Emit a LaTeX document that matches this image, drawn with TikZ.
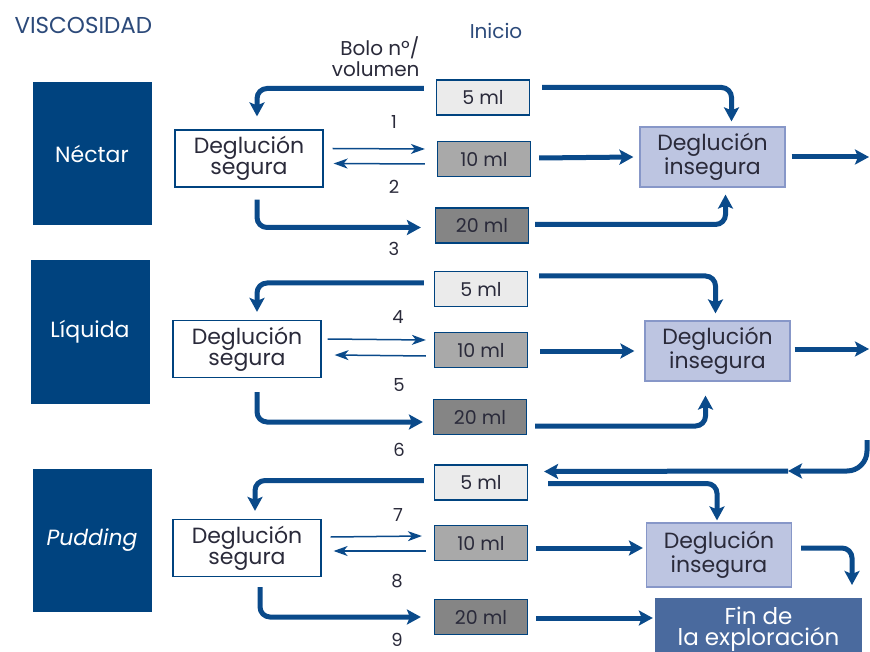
\documentclass[tikz,border=0pt]{standalone}
\usepackage{fontspec}
\setmainfont{Poppins}
\usetikzlibrary{arrows.meta,calc}
\definecolor{azulosc}{HTML}{00437F}
\definecolor{flechaazul}{HTML}{0A4A8A}
\definecolor{azulfin}{HTML}{4A6A9E}
\definecolor{lila}{HTML}{BDC5E1}
\definecolor{lilaborde}{HTML}{8797C8}
\definecolor{gris5}{HTML}{EBEBEB}
\definecolor{gris10}{HTML}{A9A9A9}
\definecolor{gris20}{HTML}{858585}
\definecolor{texto}{HTML}{2A2A3A}
\definecolor{titulazul}{HTML}{2C4A7A}
\tikzset{
  viscbox/.style={fill=azulosc, minimum width=119pt, minimum height=143pt, inner sep=0pt,
    text=white, font=\fontsize{22}{24}\selectfont},
  segbox/.style={draw=azulosc, line width=1.2pt, fill=white, minimum width=148pt, minimum height=57pt,
    inner sep=0pt, align=center, text=texto, font=\fontsize{22}{21}\selectfont},
  mlbox/.style={draw=azulosc, line width=1.2pt, minimum width=93pt, minimum height=35pt,
    inner sep=0pt, text=texto, font=\fontsize{19}{21}\selectfont},
  insbox/.style={draw=lilaborde, line width=1.2pt, fill=lila, minimum width=145pt, minimum height=60pt,
    inner sep=0pt, align=center, text=texto, font=\fontsize{22}{21}\selectfont},
  finbox/.style={fill=azulfin, minimum width=207pt, minimum height=62pt, inner sep=0pt,
    align=center, text=white, font=\fontsize{23}{21}\selectfont},
  flecha/.style={draw=flechaazul, line width=5pt, -{Stealth[length=14pt,width=15pt,inset=3pt]}},
  flechita/.style={draw=flechaazul, line width=1.5pt, -{Stealth[length=14pt,width=10pt,inset=4pt]}},
  num/.style={text=texto, font=\fontsize{18}{20}\selectfont}
}
\begin{document}
\begin{tikzpicture}[x=1pt,y=-1pt]
\useasboundingbox (0,0) rectangle (870,652);

\node[anchor=west, text=titulazul, font=\fontsize{23}{25}\selectfont] (titulo) at (11,25) {VISCOSIDAD};
\node[text=titulazul, font=\fontsize{20}{22}\selectfont] (inicio) at (496,31) {Inicio};
\node[anchor=east, align=right, text=texto, font=\fontsize{20}{21}\selectfont] (bolo) at (423,57) {Bolo nº/\\volumen};

\node[viscbox] (nectar) at (92,154) {Néctar};
\node[viscbox] (liquida) at (90,332) {Líquida};
\node[viscbox] (pudding) at (92,540) {\itshape Pudding};

\node[segbox] (segA) at (249,158.5) {Deglución\\segura};
\node[segbox] (segB) at (247,349) {Deglución\\segura};
\node[segbox] (segC) at (247,548) {Deglución\\segura};

\node[mlbox, fill=gris5] (mlA5) at (483,97.5) {5 ml};
\node[mlbox, fill=gris10] (mlA10) at (484,159) {10 ml};
\node[mlbox, fill=gris20] (mlA20) at (482,225.5) {20 ml};
\node[mlbox, fill=gris5] (mlB5) at (481,289) {5 ml};
\node[mlbox, fill=gris10] (mlB10) at (481,350) {10 ml};
\node[mlbox, fill=gris20] (mlB20) at (480,417) {20 ml};
\node[mlbox, fill=gris5] (mlC5) at (481,482.5) {5 ml};
\node[mlbox, fill=gris10] (mlC10) at (481,543) {10 ml};
\node[mlbox, fill=gris20] (mlC20) at (481,617) {20 ml};

\node[insbox] (insA) at (712.5,157) {Deglución\\insegura};
\node[insbox] (insB) at (717.5,351) {Deglución\\insegura};
\node[insbox, minimum height=64pt] (insC) at (719,555) {Deglución\\insegura};
\node[finbox] (fin) at (758.5,629) {Fin de\\la exploración};

\node[num] (n1) at (394,122) {1};
\node[num] (n2) at (394,187) {2};
\node[num] (n3) at (394,249) {3};
\node[num] (n4) at (398,317) {4};
\node[num] (n5) at (399,385) {5};
\node[num] (n6) at (399,450) {6};
\node[num] (n7) at (398,515) {7};
\node[num] (n8) at (397,581) {8};
\node[num] (n9) at (397,640) {9};

\coordinate (outA) at (869,157);
\coordinate (outB) at (869,349);
\coordinate (vuelta) at (867,440);
\coordinate (cruce) at (788,471);
\coordinate (finend) at (852,585);

\draw[flecha, rounded corners=10pt] ($(mlA5.west)+(-12,-9)$) -| ($(segA.north)+(8,-13)$);
\draw[flechita] ($(segA.east)+(9,-10)$) -- ($(mlA10.west)+(-12,-10)$);
\draw[flechita] ($(mlA10.west)+(-12,5)$) -- ($(segA.east)+(10,5)$);
\draw[flecha, rounded corners=10pt] ($(segA.south)+(8,12)$) |- ($(mlA20.west)+(-14,2)$);
\draw[flecha, rounded corners=10pt] ($(mlA5.east)+(12,-10)$) -| ($(insA.north)+(19,-5)$);
\draw[flecha] ($(mlA10.east)+(8,-1)$) -- ($(insA.west)+(-6,0)$);
\draw[flecha, rounded corners=10pt] ($(mlA20.east)+(6,-1)$) -| ($(insA.south)+(13,7)$);
\draw[flecha] ($(insA.east)+(6,0)$) -- (outA);

\draw[flecha, rounded corners=10pt] ($(mlB5.west)+(-10,-6)$) -| ($(segB.north)+(10,-8)$);
\draw[flechita] ($(segB.east)+(6,-10)$) -- ($(mlB10.west)+(-8,-10)$);
\draw[flechita] ($(mlB10.west)+(-8,6)$) -- ($(segB.east)+(13,6)$);
\draw[flecha, rounded corners=10pt] ($(segB.south)+(10,14)$) |- ($(mlB20.west)+(-10,5)$);
\draw[flecha, rounded corners=10pt] ($(mlB5.east)+(11,-13)$) -| ($(insB.north)+(-2,-7)$);
\draw[flecha] ($(mlB10.east)+(12,1)$) -- ($(insB.west)+(-10,0)$);
\draw[flecha, rounded corners=10pt] ($(mlB20.east)+(8,9)$) -| ($(insB.south)+(-12,14)$);
\draw[flecha] ($(insB.east)+(4,-2)$) -- (outB);
\draw[flecha, rounded corners=20pt] (vuelta) |- (cruce);
\draw[flecha] (cruce) -- ($(mlC5.east)+(16,-11)$);

\draw[flecha, rounded corners=10pt] ($(mlC5.west)+(-10,-2)$) -| ($(segC.north)+(8,-8)$);
\draw[flechita] ($(segC.east)+(9,-11)$) -- ($(mlC10.west)+(-12,-7)$);
\draw[flechita] ($(mlC10.west)+(-8,8)$) -- ($(segC.east)+(12,3)$);
\draw[flecha, rounded corners=10pt] ($(segC.south)+(13,10)$) |- ($(mlC20.west)+(-13,0)$);
\draw[flecha, rounded corners=10pt] ($(mlC5.east)+(20,1)$) -| ($(insC.north)+(-2,-2)$);
\draw[flecha] ($(mlC10.east)+(8,5)$) -- ($(insC.west)+(-3,-7)$);
\draw[flecha] ($(mlC20.east)+(8,1)$) -- ($(fin.west)+(-2,-11)$);
\draw[flecha, rounded corners=10pt] ($(insC.east)+(9,-7)$) -| (finend);
\end{tikzpicture}
\end{document}
